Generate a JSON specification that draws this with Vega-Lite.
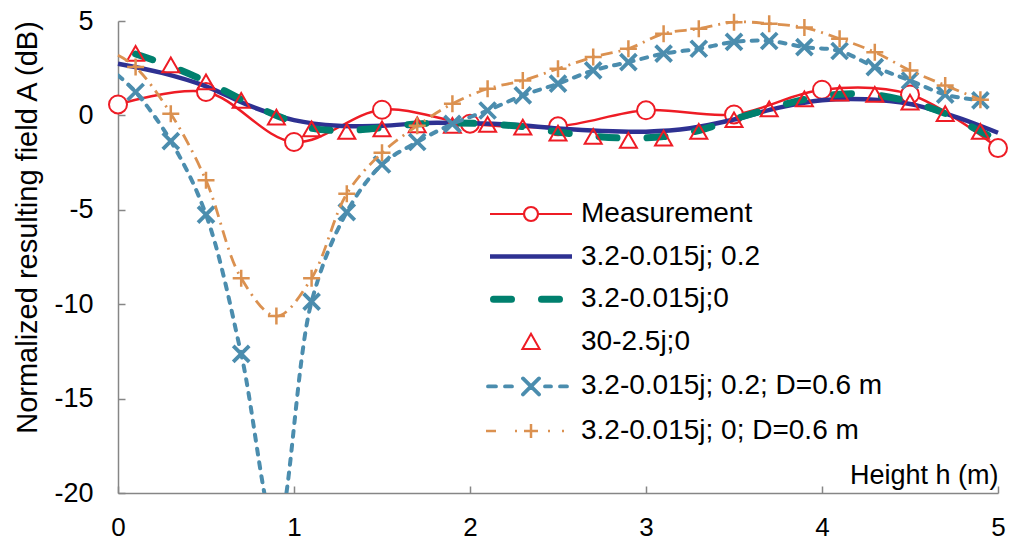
{
  "$schema": "https://vega.github.io/schema/vega-lite/v6.json",
  "width": 880,
  "height": 472,
  "autosize": {"type": "none"},
  "padding": {"left": 118, "top": 21, "right": 11, "bottom": 47},
  "background": "white",
  "config": {
    "view": {"stroke": null},
    "font": "Liberation Sans",
    "axis": {
      "domainColor": "#868686",
      "domainWidth": 1.5,
      "tickColor": "#868686",
      "tickWidth": 1.5,
      "grid": false,
      "labelColor": "black",
      "labelFontSize": 27,
      "labelFont": "Liberation Sans",
      "titleFont": "Liberation Sans",
      "titleColor": "black",
      "titleFontWeight": "normal"
    }
  },
  "data": {
    "values": [
      {"s": "Measurement", "h": 0, "a": 0.58},
      {"s": "Measurement", "h": 0.5, "a": 1.24},
      {"s": "Measurement", "h": 1, "a": -1.41},
      {"s": "Measurement", "h": 1.5, "a": 0.3},
      {"s": "Measurement", "h": 2, "a": -0.44},
      {"s": "Measurement", "h": 2.5, "a": -0.58},
      {"s": "Measurement", "h": 3, "a": 0.27},
      {"s": "Measurement", "h": 3.5, "a": 0.05},
      {"s": "Measurement", "h": 4, "a": 1.36},
      {"s": "Measurement", "h": 4.5, "a": 1.11},
      {"s": "Measurement", "h": 5, "a": -1.73},

      {"s": "3.2-0.015j; 0.2", "h": 0, "a": 2.74},
      {"s": "3.2-0.015j; 0.2", "h": 0.25, "a": 2.25},
      {"s": "3.2-0.015j; 0.2", "h": 0.5, "a": 1.54},
      {"s": "3.2-0.015j; 0.2", "h": 0.75, "a": 0.5},
      {"s": "3.2-0.015j; 0.2", "h": 1, "a": -0.25},
      {"s": "3.2-0.015j; 0.2", "h": 1.25, "a": -0.55},
      {"s": "3.2-0.015j; 0.2", "h": 1.5, "a": -0.55},
      {"s": "3.2-0.015j; 0.2", "h": 1.75, "a": -0.4},
      {"s": "3.2-0.015j; 0.2", "h": 2, "a": -0.42},
      {"s": "3.2-0.015j; 0.2", "h": 2.25, "a": -0.5},
      {"s": "3.2-0.015j; 0.2", "h": 2.5, "a": -0.7},
      {"s": "3.2-0.015j; 0.2", "h": 2.75, "a": -0.83},
      {"s": "3.2-0.015j; 0.2", "h": 3, "a": -0.86},
      {"s": "3.2-0.015j; 0.2", "h": 3.25, "a": -0.68},
      {"s": "3.2-0.015j; 0.2", "h": 3.5, "a": -0.22},
      {"s": "3.2-0.015j; 0.2", "h": 3.75, "a": 0.4},
      {"s": "3.2-0.015j; 0.2", "h": 4, "a": 0.8},
      {"s": "3.2-0.015j; 0.2", "h": 4.25, "a": 0.85},
      {"s": "3.2-0.015j; 0.2", "h": 4.5, "a": 0.6},
      {"s": "3.2-0.015j; 0.2", "h": 4.75, "a": -0.05},
      {"s": "3.2-0.015j; 0.2", "h": 5, "a": -0.92},

      {"s": "3.2-0.015j;0", "h": 0.1, "a": 3.25},
      {"s": "3.2-0.015j;0", "h": 0.3, "a": 2.6},
      {"s": "3.2-0.015j;0", "h": 0.5, "a": 1.8},
      {"s": "3.2-0.015j;0", "h": 0.7, "a": 0.85},
      {"s": "3.2-0.015j;0", "h": 0.9, "a": 0.0},
      {"s": "3.2-0.015j;0", "h": 1.1, "a": -0.68},
      {"s": "3.2-0.015j;0", "h": 1.3, "a": -0.8},
      {"s": "3.2-0.015j;0", "h": 1.5, "a": -0.65},
      {"s": "3.2-0.015j;0", "h": 1.7, "a": -0.45},
      {"s": "3.2-0.015j;0", "h": 1.9, "a": -0.4},
      {"s": "3.2-0.015j;0", "h": 2.1, "a": -0.45},
      {"s": "3.2-0.015j;0", "h": 2.3, "a": -0.6},
      {"s": "3.2-0.015j;0", "h": 2.5, "a": -0.88},
      {"s": "3.2-0.015j;0", "h": 2.7, "a": -1.1},
      {"s": "3.2-0.015j;0", "h": 2.9, "a": -1.2},
      {"s": "3.2-0.015j;0", "h": 3.1, "a": -1.12},
      {"s": "3.2-0.015j;0", "h": 3.3, "a": -0.8},
      {"s": "3.2-0.015j;0", "h": 3.5, "a": -0.2},
      {"s": "3.2-0.015j;0", "h": 3.7, "a": 0.35},
      {"s": "3.2-0.015j;0", "h": 3.9, "a": 0.85},
      {"s": "3.2-0.015j;0", "h": 4.1, "a": 1.12},
      {"s": "3.2-0.015j;0", "h": 4.3, "a": 1.08},
      {"s": "3.2-0.015j;0", "h": 4.5, "a": 0.72},
      {"s": "3.2-0.015j;0", "h": 4.7, "a": 0.1},
      {"s": "3.2-0.015j;0", "h": 4.9, "a": -0.85},
      {"s": "3.2-0.015j;0", "h": 5, "a": -1.3},

      {"s": "30-2.5j;0", "h": 0.1, "a": 3.29},
      {"s": "30-2.5j;0", "h": 0.3, "a": 2.68},
      {"s": "30-2.5j;0", "h": 0.5, "a": 1.77},
      {"s": "30-2.5j;0", "h": 0.7, "a": 0.8},
      {"s": "30-2.5j;0", "h": 0.9, "a": -0.09},
      {"s": "30-2.5j;0", "h": 1.1, "a": -0.71},
      {"s": "30-2.5j;0", "h": 1.3, "a": -0.85},
      {"s": "30-2.5j;0", "h": 1.5, "a": -0.71},
      {"s": "30-2.5j;0", "h": 1.7, "a": -0.5},
      {"s": "30-2.5j;0", "h": 1.9, "a": -0.53},
      {"s": "30-2.5j;0", "h": 2.1, "a": -0.48},
      {"s": "30-2.5j;0", "h": 2.3, "a": -0.62},
      {"s": "30-2.5j;0", "h": 2.5, "a": -0.94},
      {"s": "30-2.5j;0", "h": 2.7, "a": -1.11},
      {"s": "30-2.5j;0", "h": 2.9, "a": -1.32},
      {"s": "30-2.5j;0", "h": 3.1, "a": -1.2},
      {"s": "30-2.5j;0", "h": 3.3, "a": -0.85},
      {"s": "30-2.5j;0", "h": 3.5, "a": -0.23},
      {"s": "30-2.5j;0", "h": 3.7, "a": 0.35},
      {"s": "30-2.5j;0", "h": 3.9, "a": 0.88},
      {"s": "30-2.5j;0", "h": 4.1, "a": 1.18},
      {"s": "30-2.5j;0", "h": 4.3, "a": 1.11},
      {"s": "30-2.5j;0", "h": 4.5, "a": 0.7},
      {"s": "30-2.5j;0", "h": 4.7, "a": 0.09},
      {"s": "30-2.5j;0", "h": 4.9, "a": -0.85},

      {"s": "3.2-0.015j; 0.2; D=0.6 m", "h": 0, "a": 2.12},
      {"s": "3.2-0.015j; 0.2; D=0.6 m", "h": 0.1, "a": 1.24},
      {"s": "3.2-0.015j; 0.2; D=0.6 m", "h": 0.3, "a": -1.36},
      {"s": "3.2-0.015j; 0.2; D=0.6 m", "h": 0.5, "a": -5.26},
      {"s": "3.2-0.015j; 0.2; D=0.6 m", "h": 0.7, "a": -12.63},
      {"s": "3.2-0.015j; 0.2; D=0.6 m", "h": 0.9, "a": -22},
      {"s": "3.2-0.015j; 0.2; D=0.6 m", "h": 1.1, "a": -9.86},
      {"s": "3.2-0.015j; 0.2; D=0.6 m", "h": 1.3, "a": -5.12},
      {"s": "3.2-0.015j; 0.2; D=0.6 m", "h": 1.5, "a": -2.6},
      {"s": "3.2-0.015j; 0.2; D=0.6 m", "h": 1.7, "a": -1.41},
      {"s": "3.2-0.015j; 0.2; D=0.6 m", "h": 1.9, "a": -0.45},
      {"s": "3.2-0.015j; 0.2; D=0.6 m", "h": 2.1, "a": 0.26},
      {"s": "3.2-0.015j; 0.2; D=0.6 m", "h": 2.3, "a": 1.06},
      {"s": "3.2-0.015j; 0.2; D=0.6 m", "h": 2.5, "a": 1.68},
      {"s": "3.2-0.015j; 0.2; D=0.6 m", "h": 2.7, "a": 2.38},
      {"s": "3.2-0.015j; 0.2; D=0.6 m", "h": 2.9, "a": 2.82},
      {"s": "3.2-0.015j; 0.2; D=0.6 m", "h": 3.1, "a": 3.27},
      {"s": "3.2-0.015j; 0.2; D=0.6 m", "h": 3.3, "a": 3.53},
      {"s": "3.2-0.015j; 0.2; D=0.6 m", "h": 3.5, "a": 3.89},
      {"s": "3.2-0.015j; 0.2; D=0.6 m", "h": 3.7, "a": 3.94},
      {"s": "3.2-0.015j; 0.2; D=0.6 m", "h": 3.9, "a": 3.62},
      {"s": "3.2-0.015j; 0.2; D=0.6 m", "h": 4.1, "a": 3.41},
      {"s": "3.2-0.015j; 0.2; D=0.6 m", "h": 4.3, "a": 2.56},
      {"s": "3.2-0.015j; 0.2; D=0.6 m", "h": 4.5, "a": 1.85},
      {"s": "3.2-0.015j; 0.2; D=0.6 m", "h": 4.7, "a": 1.1},
      {"s": "3.2-0.015j; 0.2; D=0.6 m", "h": 4.9, "a": 0.8},

      {"s": "3.2-0.015j; 0; D=0.6 m", "h": 0, "a": 3.18},
      {"s": "3.2-0.015j; 0; D=0.6 m", "h": 0.1, "a": 2.56},
      {"s": "3.2-0.015j; 0; D=0.6 m", "h": 0.3, "a": 0.09},
      {"s": "3.2-0.015j; 0; D=0.6 m", "h": 0.5, "a": -3.44},
      {"s": "3.2-0.015j; 0; D=0.6 m", "h": 0.7, "a": -8.62},
      {"s": "3.2-0.015j; 0; D=0.6 m", "h": 0.9, "a": -10.63},
      {"s": "3.2-0.015j; 0; D=0.6 m", "h": 1.1, "a": -8.62},
      {"s": "3.2-0.015j; 0; D=0.6 m", "h": 1.3, "a": -4.15},
      {"s": "3.2-0.015j; 0; D=0.6 m", "h": 1.5, "a": -1.98},
      {"s": "3.2-0.015j; 0; D=0.6 m", "h": 1.7, "a": -0.55},
      {"s": "3.2-0.015j; 0; D=0.6 m", "h": 1.9, "a": 0.62},
      {"s": "3.2-0.015j; 0; D=0.6 m", "h": 2.1, "a": 1.41},
      {"s": "3.2-0.015j; 0; D=0.6 m", "h": 2.3, "a": 1.85},
      {"s": "3.2-0.015j; 0; D=0.6 m", "h": 2.5, "a": 2.47},
      {"s": "3.2-0.015j; 0; D=0.6 m", "h": 2.7, "a": 3.09},
      {"s": "3.2-0.015j; 0; D=0.6 m", "h": 2.9, "a": 3.53},
      {"s": "3.2-0.015j; 0; D=0.6 m", "h": 3.1, "a": 4.33},
      {"s": "3.2-0.015j; 0; D=0.6 m", "h": 3.3, "a": 4.59},
      {"s": "3.2-0.015j; 0; D=0.6 m", "h": 3.5, "a": 4.94},
      {"s": "3.2-0.015j; 0; D=0.6 m", "h": 3.7, "a": 4.86},
      {"s": "3.2-0.015j; 0; D=0.6 m", "h": 3.9, "a": 4.65},
      {"s": "3.2-0.015j; 0; D=0.6 m", "h": 4.1, "a": 4.06},
      {"s": "3.2-0.015j; 0; D=0.6 m", "h": 4.3, "a": 3.35},
      {"s": "3.2-0.015j; 0; D=0.6 m", "h": 4.5, "a": 2.38},
      {"s": "3.2-0.015j; 0; D=0.6 m", "h": 4.7, "a": 1.59},
      {"s": "3.2-0.015j; 0; D=0.6 m", "h": 4.9, "a": 0.83}
    ]
  },
  "encoding": {
    "x": {
      "field": "h",
      "type": "quantitative",
      "scale": {"domain": [0, 5], "nice": false},
      "axis": {
        "values": [0, 1, 2, 3, 4, 5],
        "labelExpr": "'' + datum.value",
        "labelFontSize": 26,
        "tickSize": -7,
        "labelPadding": 28,
        "labelFlush": false,
        "title": "Height h (m)",
        "titleFontSize": 27,
        "titleX": 880,
        "titleY": -10,
        "titleAlign": "right",
        "titleBaseline": "alphabetic",
        "titleAnchor": null
      }
    },
    "y": {
      "field": "a",
      "type": "quantitative",
      "scale": {"domain": [-20, 5], "nice": false},
      "axis": {
        "values": [-20, -15, -10, -5, 0, 5],
        "labelExpr": "'' + datum.value",
        "tickSize": -7,
        "labelPadding": 32,
        "title": "Normalized resulting field A (dB)",
        "titleFontSize": 29,
        "titleX": -91,
        "titleY": 206,
        "titleAngle": -90,
        "titleAlign": "center",
        "titleBaseline": "middle",
        "titleAnchor": null
      }
    }
  },
  "layer": [
    {
      "transform": [{"filter": "datum.s === 'Measurement'"}],
      "mark": {"type": "line", "interpolate": "catmull-rom", "strokeWidth": 2.5},
      "encoding": {
        "color": {
          "field": "s",
          "type": "nominal",
          "scale": {
            "domain": ["Measurement", "3.2-0.015j; 0.2", "3.2-0.015j;0", "30-2.5j;0", "3.2-0.015j; 0.2; D=0.6 m", "3.2-0.015j; 0; D=0.6 m"],
            "range": ["#EE1C25", "#2E3192", "#00806E", "#EE1C25", "#4B8DAE", "#DB9150"]
          },
          "legend": {
            "orient": "none",
            "legendX": 399,
            "legendY": 179,
            "title": null,
            "padding": 0,
            "symbolSize": 1600,
            "labelFontSize": 28,
            "labelFont": "Liberation Sans",
            "labelColor": "black",
            "labelLimit": 500,
            "labelOffset": 36,
            "rowPadding": 14.6,
            "encode": {
              "symbols": {
                "update": {
                  "shape": {"signal": "datum.value === 'Measurement' ? 'M-2.05,0H-0.35M0.35,0H2.05M0.35,0A0.35,0.35 0 1,1 -0.35,0A0.35,0.35 0 1,1 0.35,0' : datum.value === '3.2-0.015j; 0.2' ? 'M-2.05,0H2.05' : datum.value === '3.2-0.015j;0' ? 'M-1.875,0H-0.975M0.525,0H1.425' : datum.value === '30-2.5j;0' ? 'M0,-0.4L-0.43,0.36L0.43,0.36Z' : datum.value === '3.2-0.015j; 0.2; D=0.6 m' ? 'M-2.15,0H-1.75M-1.3,0H-0.95M-0.4,-0.4L0.4,0.4M-0.4,0.4L0.4,-0.4M0.7,0H1.0M1.45,0H1.8' : 'M-2.25,0H-1.75M-0.8,0H-0.7M-0.35,0H0.35M0,-0.35V0.35M0.85,0H0.95M1.55,0H1.65'"},
                  "stroke": {"scale": "color", "field": "value"},
                  "fill": {"signal": "datum.value === 'Measurement' ? 'white' : 'transparent'"},
                  "strokeWidth": {"signal": "datum.value === 'Measurement' ? 2.2 : datum.value === '3.2-0.015j; 0.2' ? 4.5 : datum.value === '3.2-0.015j;0' ? 7 : datum.value === '30-2.5j;0' ? 2 : datum.value === '3.2-0.015j; 0.2; D=0.6 m' ? 3.8 : 2.5"},
                  "strokeCap": {"signal": "datum.value === '3.2-0.015j;0' || datum.value === '3.2-0.015j; 0.2; D=0.6 m' ? 'round' : 'butt'"},
                  "strokeDash": {"value": []},
                  "opacity": {"value": 1}
                }
              }
            }
          }
        }
      }
    },
    {
      "transform": [{"filter": "datum.s === 'Measurement'"}],
      "mark": {"type": "point", "shape": "circle", "size": 324, "filled": true, "fill": "white", "stroke": "#EE1C25", "strokeWidth": 2, "opacity": 1}
    },
    {
      "transform": [{"filter": "datum.s === '3.2-0.015j; 0.2'"}],
      "mark": {"type": "line", "interpolate": "catmull-rom", "strokeWidth": 4.5},
      "encoding": {"color": {"field": "s", "type": "nominal"}}
    },
    {
      "transform": [{"filter": "datum.s === '3.2-0.015j;0'"}],
      "mark": {"type": "line", "interpolate": "catmull-rom", "strokeWidth": 7, "strokeDash": [18, 30], "strokeCap": "round"},
      "encoding": {"color": {"field": "s", "type": "nominal"}}
    },
    {
      "transform": [{"filter": "datum.s === '30-2.5j;0'"}],
      "mark": {"type": "point", "shape": "triangle-up", "size": 289, "filled": false, "stroke": "#EE1C25", "strokeWidth": 2, "opacity": 1}
    },
    {
      "transform": [{"filter": "datum.s === '3.2-0.015j; 0.2; D=0.6 m'"}],
      "mark": {"type": "line", "interpolate": "catmull-rom", "strokeWidth": 4, "strokeDash": [6, 8], "strokeCap": "round", "clip": true},
      "encoding": {"color": {"field": "s", "type": "nominal"}}
    },
    {
      "transform": [{"filter": "datum.s === '3.2-0.015j; 0.2; D=0.6 m' && datum.h > 0"}],
      "mark": {"type": "point", "shape": "M-1,-1L1,1M-1,1L1,-1", "size": 256, "filled": false, "stroke": "#4B8DAE", "strokeWidth": 3.8, "opacity": 1, "clip": true}
    },
    {
      "transform": [{"filter": "datum.s === '3.2-0.015j; 0; D=0.6 m'"}],
      "mark": {"type": "line", "interpolate": "catmull-rom", "strokeWidth": 2.8, "strokeDash": [12, 6, 2, 6]},
      "encoding": {"color": {"field": "s", "type": "nominal"}}
    },
    {
      "transform": [{"filter": "datum.s === '3.2-0.015j; 0; D=0.6 m' && datum.h > 0"}],
      "mark": {"type": "point", "shape": "M-1,0L1,0M0,-1L0,1", "size": 289, "filled": false, "stroke": "#DB9150", "strokeWidth": 2.5, "opacity": 1}
    }
  ]
}
